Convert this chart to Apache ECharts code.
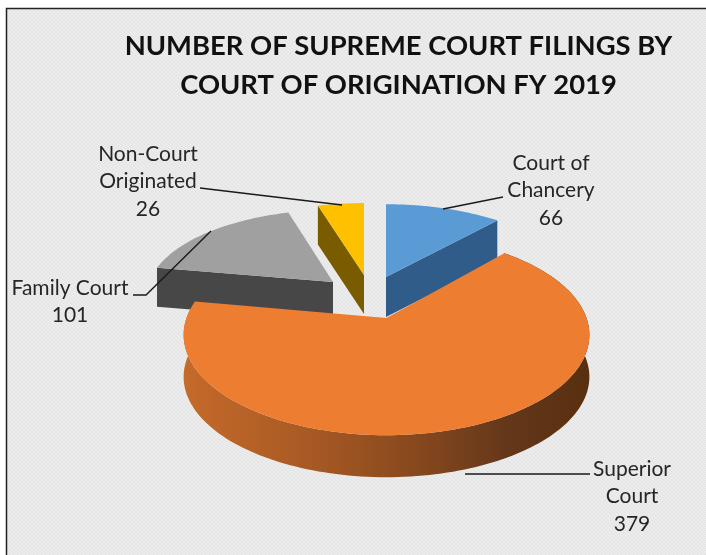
<!DOCTYPE html>
<html>
<head>
<meta charset="utf-8">
<style>html,body{margin:0;padding:0;background:#fff}#c{width:706px;height:555px}</style>
<script src="https://cdn.jsdelivr.net/npm/echarts@6/dist/echarts.min.js"></script>
</head>
<body>
<div id="c"></div>
<script>
// Data
const categories = ['Court of Chancery', 'Superior Court', 'Family Court', 'Non-Court Originated'];
const filings = [66, 379, 101, 26];
const labelLines = [['Court of', 'Chancery'], ['Superior', 'Court'], ['Family Court'], ['Non-Court', 'Originated']];
const titleLines = ['NUMBER OF SUPREME COURT FILINGS BY', 'COURT OF ORIGINATION FY 2019'];

// Drawing layout of each slice (separate from the data)
const PERSPECTIVE = 0.168;
const sliceLayout = [
  {ax: 386, ay: 277, rx: 189, ry: 85, depth: 40, top: '#5b9bd5', wall: '#2f5c88', cut: 'end', z: 30, label: [551, 163], leader: [[503,197],[443,209]]},
  {ax: 386.5, ay: 318, rx: 200, ry: 97.5, depth: 42, top: '#ed7d31', wall: 'grad', cut: 'arc', z: 40, label: [632, 469], leader: [[590,474],[465,474]]},
  {ax: 333, ay: 282, rx: 184, ry: 84, depth: 39, top: '#a0a0a0', wall: '#474747', cut: 'start', z: 10, label: [70, 288], leader: [[133,295],[146,295],[211,231]]},
  {ax: 364, ay: 275, rx: 190, ry: 84, depth: 39, top: '#ffc000', wall: '#7a5c00', cut: 'start', z: 20, label: [148, 154], leader: [[200,188],[342,205]]}
];
const LINE_H = 27.5;
const total = filings.reduce((a, b) => a + b, 0);

function project(l, deg) {
  const t = deg * Math.PI / 180;
  const s = 1 / (1 + PERSPECTIVE * Math.cos(t));
  return [l.ax + l.rx * Math.sin(t) * s, l.ay - l.ry * Math.cos(t) * s];
}
function arcPoints(l, a0, a1) {
  const pts = [], n = Math.max(8, Math.ceil(Math.abs(a1 - a0) / 1.5));
  for (let i = 0; i <= n; i++) pts.push(project(l, a0 + (a1 - a0) * i / n));
  return pts;
}
const down = (pts, d) => pts.map(p => [p[0], p[1] + d]);

function renderSlice(params, api) {
  const i = params.dataIndex, l = sliceLayout[i];
  let start = 0;
  for (let k = 0; k < i; k++) start += filings[k] / total * 360;
  const end = start + api.value(1) / total * 360;
  const arc = arcPoints(l, start, end);
  const children = [];
  let wallPts;
  if (l.cut === 'arc') wallPts = arc.concat(down(arc, l.depth).reverse());
  else {
    const e = l.cut === 'start' ? arc[0] : arc[arc.length - 1];
    const c = [l.ax, l.ay];
    wallPts = [c, e, [e[0], e[1] + l.depth], [c[0], c[1] + l.depth]];
  }
  const wallFill = l.wall === 'grad'
    ? {type: 'linear', x: 0, y: 0, x2: 1, y2: 0, colorStops: [
        {offset: 0, color: '#c56a2a'}, {offset: .3, color: '#a95a24'},
        {offset: .55, color: '#8a4a1e'}, {offset: .8, color: '#64371a'}, {offset: 1, color: '#58300f'}]}
    : l.wall;
  children.push({type: 'polygon', z2: l.z, shape: {points: wallPts}, style: {fill: wallFill}});
  children.push({type: 'polygon', z2: l.z + 1, shape: {points: [[l.ax, l.ay]].concat(arc)}, style: {fill: l.top}});
  children.push({type: 'polyline', z2: 60, shape: {points: l.leader}, style: {fill: 'none', stroke: '#1a1a1a', lineWidth: 1.4}});
  labelLines[i].concat(String(api.value(1))).forEach((t, n) => {
    children.push({type: 'text', z2: 70, style: {
      text: t, x: l.label[0], y: l.label[1] + n * LINE_H, align: 'center', verticalAlign: 'middle',
      font: '21px Lato, "Noto Sans", sans-serif', fill: '#262626'}});
  });
  return {type: 'group', children};
}

// Fine stipple matching the chart area's textured fill
const tile = document.createElement('canvas');
tile.width = tile.height = 4;
const tc = tile.getContext('2d');
tc.fillStyle = '#e9e9e9'; tc.fillRect(0, 0, 4, 4);
tc.fillStyle = '#e2e2e2'; [[0,0],[2,1],[1,2],[3,3]].forEach(p => tc.fillRect(p[0], p[1], 1, 1));
tc.fillStyle = '#f0f0f0'; [[2,0],[0,1],[3,2],[1,3]].forEach(p => tc.fillRect(p[0], p[1], 1, 1));

const chart = echarts.init(document.getElementById('c'), null, {renderer: 'canvas'});
chart.setOption({
  animation: false,
  backgroundColor: '#ffffff',
  title: {
    text: titleLines.join('\n'), left: 393.5, top: 22, textAlign: 'center',
    textStyle: {fontFamily: 'Lato, "Noto Sans", sans-serif', fontWeight: 'bold', fontSize: 27.4, lineHeight: 39, color: '#111'}
  },
  graphic: [{type: 'rect', z: -10, silent: true, shape: {x: 6.5, y: 8.5, width: 720, height: 570},
    style: {fill: {image: tile, repeat: 'repeat'}, stroke: '#222', lineWidth: 1.5}}],
  series: [{
    type: 'custom', coordinateSystem: 'none', renderItem: renderSlice,
    data: categories.map((c, i) => ({name: c, value: [i, filings[i]]}))
  }]
});
</script>
</body>
</html>
